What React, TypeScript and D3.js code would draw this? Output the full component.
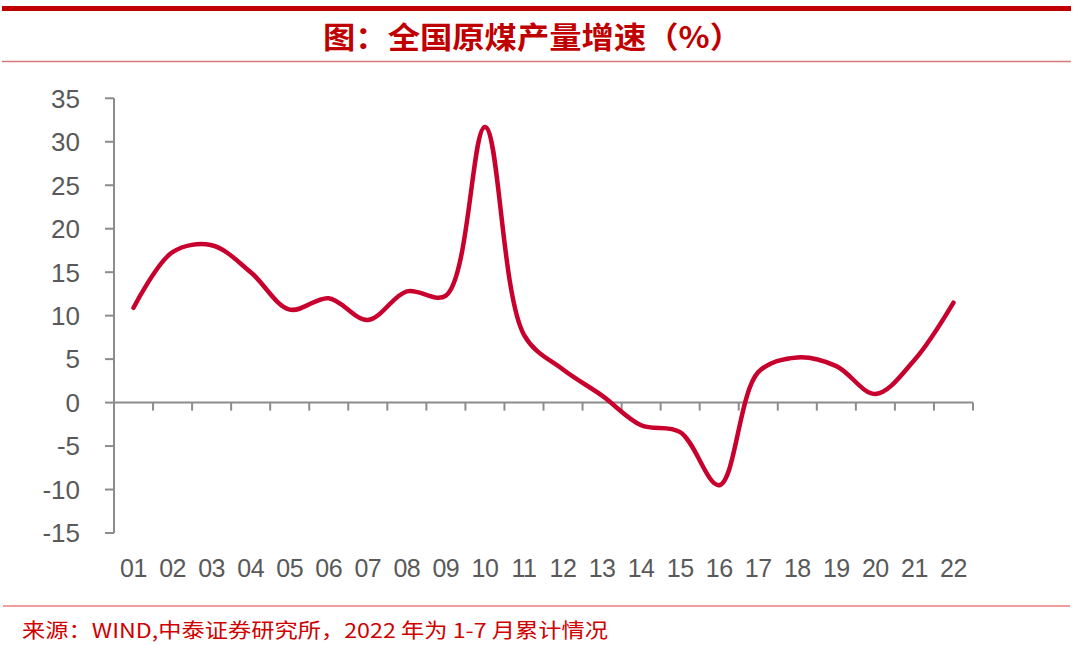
import React from "react";
import * as d3 from "d3";

const categories = ["01","02","03","04","05","06","07","08","09","10","11","12","13","14","15","16","17","18","19","20","21","22"];
const growth = [10.9, 17.3, 18.1, 15.0, 10.7, 12.0, 9.5, 12.8, 12.3, 31.7, 7.8, 3.8, 0.8, -2.6, -3.4, -9.5, 3.5, 5.2, 4.2, 1.0, 4.9, 11.5];
const yTicks = [35, 30, 25, 20, 15, 10, 5, 0, -5, -10, -15];

const title = "图：全国原煤产量增速（%）";
const source = "来源：WIND,中泰证券研究所，2022 年为 1-7 月累计情况";

export default function App() {
  const W = 1080, H = 645;
  const left = 114, right = 973, top = 98.3, bottom = 533;
  const y = d3.scaleLinear().domain([-15, 35]).range([bottom, top]);
  const x = d3.scaleBand<string>().domain(categories).range([left, right]).padding(0);
  const cx = (c: string) => (x(c) as number) + x.bandwidth() / 2;
  const line = d3.line<number>()
    .x((_, i) => cx(categories[i]))
    .y((d) => y(d))
    .curve(d3.curveCatmullRom.alpha(0.5));
  const y0 = y(0);
  const axisColor = "#8c8c8c";
  const labelColor = "#595959";
  const boundaries = categories.map((c) => (x(c) as number) + x.bandwidth());

  return (
    <svg width={W} height={H} style={{ position: "absolute", left: 0, top: 0, background: "#fff" }}>
      <rect x={2} y={6} width={1069} height={5} fill="#c00000" />
      <line x1={2} x2={1071} y1={61.5} y2={61.5} stroke="#d97a7a" strokeWidth={1.5} />
      <text x={323} y={48} fill="#c00000" fontSize={30} fontWeight="bold"
        textLength={419} lengthAdjust="spacingAndGlyphs"
        fontFamily="'Noto Sans CJK SC', sans-serif">{title}</text>

      {/* y axis */}
      <line x1={left} x2={left} y1={top} y2={bottom} stroke={axisColor} strokeWidth={2} />
      {yTicks.map((t) => (
        <g key={t}>
          <line x1={105} x2={left} y1={y(t)} y2={y(t)} stroke={axisColor} strokeWidth={2} />
          <text x={80} y={y(t)} dy="0.36em" textAnchor="end" fill={labelColor} fontSize={26}
            fontFamily="'Liberation Sans', Arial, sans-serif">{t}</text>
        </g>
      ))}

      {/* x axis at 0 */}
      <line x1={left} x2={right} y1={y0} y2={y0} stroke={axisColor} strokeWidth={2} />
      {boundaries.map((b, i) => (
        <line key={i} x1={b} x2={b} y1={y0} y2={y0 + 8} stroke={axisColor} strokeWidth={2} />
      ))}
      {categories.map((c) => (
        <text key={c} x={cx(c)} y={577} textAnchor="middle" fill={labelColor} fontSize={25}
          fontFamily="'Liberation Sans', Arial, sans-serif" letterSpacing={-0.5}>{c}</text>
      ))}

      <path d={line(growth) || ""} fill="none" stroke="#c8002d" strokeWidth={4.5}
        strokeLinejoin="round" strokeLinecap="round" />

      <line x1={3} x2={1070} y1={606} y2={606} stroke="#e03c3c" strokeWidth={1.2} />
      <text x={22} y={638} fill="#d00000" fontSize={20}
        textLength={586} lengthAdjust="spacingAndGlyphs"
        fontFamily="'Noto Sans CJK SC', sans-serif">{source}</text>
    </svg>
  );
}
